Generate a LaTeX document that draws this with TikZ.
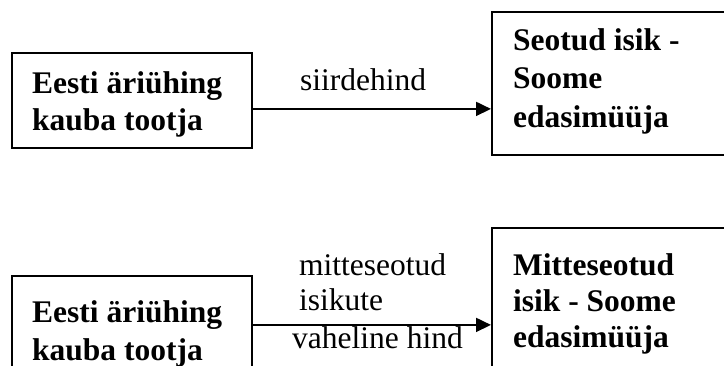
\documentclass[tikz,border=0pt]{standalone}
\usepackage{fontspec}
\setmainfont{Liberation Serif}
\usetikzlibrary{arrows.meta}
\begin{document}
\begin{tikzpicture}[x=1pt,y=-1pt,
  box/.style={draw, line width=1.8pt, rectangle, inner sep=0pt, anchor=north west},
  boxtext/.style={anchor=base west, inner sep=0pt, font=\bfseries\fontsize{31.5}{#1}\selectfont},
  lbl/.style={anchor=base west, inner sep=0pt, font=\fontsize{31.5}{#1}\selectfont},
  conn/.style={line width=1.8pt, -{Triangle[length=15pt,width=14pt]}}]
\useasboundingbox (0,0) rectangle (724,365);
\clip (0,0) rectangle (724,365);

% upper pair: producer and related reseller
\node[box, minimum width=240pt, minimum height=95pt] (prod1) at (11,52) {};
\node[box, minimum width=270pt, minimum height=143pt] (rel) at (491,11) {};
\node[boxtext=37] (prod1txt) at (32,93)
  {\begin{tabular}[t]{@{}l@{}}Eesti äriühing\\kauba tootja\end{tabular}};
\node[boxtext=38.5] (reltxt) at (513,50)
  {\begin{tabular}[t]{@{}l@{}}Seotud isik -\\Soome\\edasimüüja\end{tabular}};
\draw[conn] ([yshift=-8.5pt]prod1.east) -- ([yshift=-8.5pt]prod1.east -| rel.west);
\node[lbl=35] (price1) at (300,90) {siirdehind};

% lower pair: producer and unrelated reseller
\node[box, minimum width=240pt, minimum height=98pt] (prod2) at (11,275) {};
\node[box, minimum width=270pt, minimum height=180pt] (unrel) at (491,227) {};
\node[boxtext=38] (prod2txt) at (32,322)
  {\begin{tabular}[t]{@{}l@{}}Eesti äriühing\\kauba tootja\end{tabular}};
\node[boxtext=36] (unreltxt) at (513,275)
  {\begin{tabular}[t]{@{}l@{}}Mitteseotud\\isik - Soome\\edasimüüja\end{tabular}};
\draw[conn] (prod2.east) -- (prod2.east -| unrel.west);
\node[lbl=35] (price2) at (299,275)
  {\begin{tabular}[t]{@{}l@{}}mitteseotud\\isikute\\[3pt]\hspace*{-7pt}vaheline hind\end{tabular}};
\end{tikzpicture}
\end{document}
